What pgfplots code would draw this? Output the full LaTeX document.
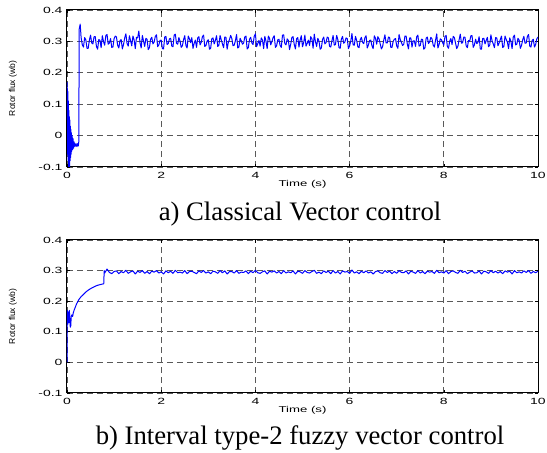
\documentclass[border=0pt]{standalone}
\usepackage{fontspec}
\setmainfont{Liberation Serif}
\newfontfamily\tickfont{Liberation Sans}
\usepackage{pgfplots}
\pgfplotsset{compat=1.18}
\newcommand{\tk}[1]{\scalebox{1.55}[1]{#1}}
\pgfplotsset{
  myax/.style={
    scale only axis, width=471pt, anchor=south west,
    xmin=0, xmax=10, ymin=-0.1, ymax=0.4,
    xtick={0,2,4,6,8,10}, xticklabels={\tk{0},\tk{2},\tk{4},\tk{6},\tk{8},\tk{10}},
    ytick={-0.1,0,0.1,0.2,0.3,0.4}, yticklabels={\tk{-0.1},\tk{0},\tk{0.1},\tk{0.2},\tk{0.3},\tk{0.4}},
    tick label style={font=\fontsize{9}{10}\selectfont\tickfont},
    xticklabel style={yshift=-1.5pt},
    yticklabel style={xshift=-1pt},
    ymajorgrids, xmajorgrids,
    major grid style={black!65, dash pattern=on 6pt off 4pt, line width=0.7pt},
    axis line style={line width=1pt},
    tick style={black, line width=0.6pt},
    major tick length=3pt, tick align=inside,
    xlabel={\tk{Time (s)}},
    xlabel style={font=\fontsize{8.5}{9}\selectfont\tickfont, yshift=5pt},
    every axis y label/.style={at={(axis description cs:-0.115,0.5)}, rotate=90, anchor=center, font=\fontsize{8.5}{9}\selectfont\tickfont},
  }
}
\begin{document}
\begin{tikzpicture}
\useasboundingbox (0,0) rectangle (547pt,453pt);
\begin{axis}[myax, at={(67pt,286pt)}, height=157pt, ylabel={Rotor flux (wb)}]
\addplot[blue, no markers, line width=1pt, line join=round] coordinates {
(0,0.17)(0.005,0.05)(0.01,0.15)(0.015,-0.06)(0.02,0.14)(0.025,-0.08)(0.03,0.11)(0.035,-0.1)(0.04,0.08)(0.045,-0.09)(0.05,0.06)(0.055,-0.1)(0.06,0.05)(0.065,-0.08)(0.07,0.03)(0.075,-0.07)(0.08,0.02)(0.085,-0.06)(0.09,0.01)(0.10,-0.05)(0.11,0.00)(0.12,-0.045)(0.13,-0.01)(0.14,-0.04)(0.15,-0.02)(0.17,-0.035)(0.19,-0.025)(0.21,-0.035)(0.23,-0.025)(0.24,-0.033)(0.25,-0.02)(0.26,0.34)(0.28,0.355)
(0.30,0.312)(0.325,0.289)(0.35,0.282)(0.375,0.312)(0.40,0.305)(0.425,0.278)(0.45,0.278)(0.475,0.304)(0.50,0.320)(0.525,0.295)
(0.55,0.292)(0.575,0.315)(0.60,0.315)(0.625,0.284)(0.65,0.275)(0.675,0.306)(0.70,0.303)(0.725,0.280)(0.75,0.318)(0.775,0.300)
(0.80,0.288)(0.825,0.319)(0.85,0.322)(0.875,0.291)(0.90,0.295)(0.925,0.309)(0.95,0.281)(0.975,0.282)(1.00,0.309)(1.025,0.317)
(1.05,0.314)(1.075,0.288)(1.10,0.279)(1.125,0.302)(1.15,0.306)(1.175,0.276)(1.20,0.290)(1.225,0.311)(1.25,0.324)(1.275,0.293)
(1.30,0.285)(1.325,0.318)(1.35,0.302)(1.375,0.286)(1.40,0.317)(1.425,0.305)(1.45,0.277)(1.475,0.313)(1.50,0.311)(1.525,0.333)
(1.55,0.296)(1.575,0.279)(1.60,0.319)(1.625,0.301)(1.65,0.284)(1.675,0.310)(1.70,0.307)(1.725,0.274)(1.75,0.280)(1.775,0.307)
(1.80,0.313)(1.825,0.292)(1.85,0.298)(1.875,0.316)(1.90,0.321)(1.925,0.283)(1.95,0.289)(1.975,0.303)(2.00,0.304)(2.025,0.277)
(2.05,0.276)(2.075,0.314)(2.10,0.316)(2.125,0.290)(2.15,0.293)(2.175,0.308)(2.20,0.310)(2.225,0.285)(2.25,0.283)(2.275,0.320)
(2.30,0.323)(2.325,0.294)(2.35,0.291)(2.375,0.312)(2.40,0.301)(2.425,0.281)(2.45,0.286)(2.475,0.306)(2.50,0.318)(2.525,0.287)
(2.55,0.279)(2.575,0.317)(2.60,0.308)(2.625,0.296)(2.65,0.312)(2.675,0.278)(2.70,0.294)(2.725,0.304)(2.75,0.281)(2.775,0.311)
(2.80,0.315)(2.825,0.289)(2.85,0.297)(2.875,0.315)(2.90,0.320)(2.925,0.284)(2.95,0.287)(2.975,0.301)(3.00,0.305)(3.025,0.275)
(3.05,0.278)(3.075,0.309)(3.10,0.311)(3.125,0.292)(3.15,0.303)(3.175,0.318)(3.20,0.284)(3.225,0.288)(3.25,0.319)(3.275,0.305)
(3.30,0.292)(3.325,0.280)(3.35,0.314)(3.375,0.313)(3.40,0.275)(3.425,0.297)(3.45,0.306)(3.475,0.319)(3.50,0.309)(3.525,0.286)
(3.55,0.288)(3.575,0.302)(3.60,0.322)(3.625,0.279)(3.65,0.282)(3.675,0.310)(3.70,0.302)(3.725,0.291)(3.75,0.295)(3.775,0.314)
(3.80,0.317)(3.825,0.276)(3.85,0.280)(3.875,0.307)(3.90,0.313)(3.925,0.295)(3.95,0.290)(3.975,0.316)(4.00,0.324)(4.025,0.283)
(4.05,0.293)(4.075,0.303)(4.10,0.285)(4.125,0.311)(4.15,0.304)(4.175,0.277)(4.20,0.316)(4.225,0.300)(4.25,0.277)(4.275,0.317)
(4.30,0.310)(4.325,0.289)(4.35,0.299)(4.375,0.312)(4.40,0.318)(4.425,0.281)(4.45,0.286)(4.475,0.305)(4.50,0.307)(4.525,0.287)
(4.55,0.281)(4.575,0.320)(4.60,0.321)(4.625,0.293)(4.65,0.289)(4.675,0.308)(4.70,0.303)(4.725,0.274)(4.75,0.291)(4.775,0.313)
(4.80,0.315)(4.825,0.290)(4.85,0.276)(4.875,0.309)(4.90,0.312)(4.925,0.282)(4.95,0.305)(4.975,0.318)(5.00,0.283)(5.025,0.296)
(5.05,0.320)(5.075,0.285)(5.10,0.294)(5.125,0.304)(5.15,0.287)(5.175,0.315)(5.20,0.308)(5.225,0.278)(5.25,0.323)(5.275,0.299)
(5.30,0.284)(5.325,0.310)(5.35,0.301)(5.375,0.275)(5.40,0.279)(5.425,0.306)(5.45,0.314)(5.475,0.292)(5.50,0.296)(5.525,0.314)
(5.55,0.311)(5.575,0.284)(5.60,0.282)(5.625,0.302)(5.65,0.319)(5.675,0.288)(5.70,0.290)(5.725,0.319)(5.75,0.306)(5.775,0.280)
(5.80,0.278)(5.825,0.307)(5.85,0.316)(5.875,0.294)(5.90,0.298)(5.925,0.311)(5.95,0.309)(5.975,0.277)(6.00,0.285)(6.025,0.301)
(6.05,0.325)(6.075,0.289)(6.10,0.288)(6.125,0.316)(6.15,0.303)(6.175,0.283)(6.20,0.280)(6.225,0.305)(6.25,0.313)(6.275,0.297)
(6.30,0.293)(6.325,0.312)(6.35,0.318)(6.375,0.279)(6.40,0.289)(6.425,0.303)(6.45,0.304)(6.475,0.286)(6.50,0.277)(6.525,0.318)
(6.55,0.310)(6.575,0.291)(6.60,0.315)(6.625,0.308)(6.65,0.292)(6.675,0.276)(6.70,0.283)(6.725,0.304)(6.75,0.321)(6.775,0.295)
(6.80,0.295)(6.825,0.314)(6.85,0.312)(6.875,0.281)(6.90,0.281)(6.925,0.300)(6.95,0.307)(6.975,0.309)(7.00,0.286)(7.025,0.278)
(7.05,0.322)(7.075,0.306)(7.10,0.297)(7.125,0.287)(7.15,0.291)(7.175,0.317)(7.20,0.317)(7.225,0.292)(7.25,0.276)(7.275,0.311)
(7.30,0.311)(7.325,0.282)(7.35,0.302)(7.375,0.302)(7.40,0.284)(7.425,0.315)(7.45,0.320)(7.475,0.285)(7.50,0.287)(7.525,0.307)
(7.55,0.306)(7.575,0.275)(7.60,0.279)(7.625,0.310)(7.65,0.314)(7.675,0.293)(7.70,0.299)(7.725,0.313)(7.75,0.308)(7.775,0.288)
(7.80,0.282)(7.825,0.304)(7.85,0.324)(7.875,0.279)(7.90,0.290)(7.925,0.308)(7.95,0.305)(7.975,0.296)(8.00,0.288)(8.025,0.316)
(8.05,0.319)(8.075,0.284)(8.10,0.278)(8.125,0.301)(8.15,0.309)(8.175,0.290)(8.20,0.316)(8.225,0.312)(8.25,0.294)(8.275,0.277)
(8.30,0.285)(8.325,0.305)(8.35,0.323)(8.375,0.294)(8.40,0.296)(8.425,0.314)(8.45,0.313)(8.475,0.286)(8.50,0.280)(8.525,0.303)
(8.55,0.301)(8.575,0.318)(8.60,0.318)(8.625,0.281)(8.65,0.289)(8.675,0.307)(8.70,0.293)(8.725,0.297)(8.75,0.315)(8.775,0.276)
(8.80,0.275)(8.825,0.309)(8.85,0.310)(8.875,0.292)(8.90,0.303)(8.925,0.313)(8.95,0.283)(8.975,0.288)(9.00,0.321)(9.025,0.302)
(9.05,0.292)(9.075,0.280)(9.10,0.312)(9.125,0.311)(9.15,0.286)(9.175,0.295)(9.20,0.306)(9.225,0.317)(9.25,0.281)(9.275,0.283)
(9.30,0.317)(9.325,0.306)(9.35,0.298)(9.375,0.277)(9.40,0.311)(9.425,0.300)(9.45,0.277)(9.475,0.314)(9.50,0.320)(9.525,0.289)
(9.55,0.291)(9.575,0.310)(9.60,0.304)(9.625,0.278)(9.65,0.287)(9.675,0.305)(9.70,0.316)(9.725,0.294)(9.75,0.295)(9.775,0.316)
(9.80,0.322)(9.825,0.285)(9.85,0.282)(9.875,0.303)(9.90,0.307)(9.925,0.282)(9.95,0.290)(9.975,0.308)(10.00,0.314)
};
\end{axis}
\node[font=\fontsize{26.7}{30}\selectfont, anchor=base] at (300pt,232pt) {a) Classical Vector control};
\begin{axis}[myax, at={(67pt,60pt)}, height=153pt, ylabel={Rotor flux (wb)}]
\addplot[blue, no markers, line width=1pt, line join=round] coordinates {
(0,0.0)(0.005,0.17)(0.02,0.125)(0.03,0.165)(0.04,0.13)(0.05,0.17)(0.06,0.14)(0.07,0.115)(0.08,0.12)(0.09,0.15)(0.10,0.155)(0.12,0.15)(0.13,0.16)(0.15,0.17)(0.20,0.19)(0.25,0.205)(0.30,0.215)(0.35,0.222)(0.40,0.230)(0.45,0.236)(0.50,0.241)(0.55,0.245)(0.60,0.249)(0.65,0.252)(0.70,0.254)(0.75,0.256)(0.78,0.257)(0.79,0.300)
(0.80,0.292)(0.85,0.305)(0.90,0.294)(0.95,0.290)(1.00,0.297)(1.05,0.299)(1.10,0.290)(1.15,0.297)(1.20,0.293)(1.25,0.301)
(1.30,0.291)(1.35,0.296)(1.40,0.299)(1.45,0.289)(1.50,0.298)(1.55,0.294)(1.60,0.300)(1.65,0.291)(1.70,0.297)(1.75,0.290)
(1.80,0.298)(1.85,0.295)(1.90,0.300)(1.95,0.292)(2.00,0.296)(2.05,0.289)(2.10,0.299)(2.15,0.293)(2.20,0.298)(2.25,0.291)
(2.30,0.301)(2.35,0.293)(2.40,0.295)(2.45,0.292)(2.50,0.300)(2.55,0.290)(2.60,0.297)(2.65,0.298)(2.70,0.294)(2.75,0.290)
(2.80,0.299)(2.85,0.294)(2.90,0.300)(2.95,0.292)(3.00,0.296)(3.05,0.290)(3.10,0.298)(3.15,0.296)(3.20,0.291)(3.25,0.300)
(3.30,0.293)(3.35,0.299)(3.40,0.289)(3.45,0.297)(3.50,0.297)(3.55,0.292)(3.60,0.300)(3.65,0.291)(3.70,0.295)(3.75,0.294)
(3.80,0.299)(3.85,0.290)(3.90,0.298)(3.95,0.293)(4.00,0.301)(4.05,0.293)(4.10,0.291)(4.15,0.296)(4.20,0.299)(4.25,0.289)
(4.30,0.298)(4.35,0.295)(4.40,0.299)(4.45,0.292)(4.50,0.297)(4.55,0.290)(4.60,0.300)(4.65,0.292)(4.70,0.296)(4.75,0.293)
(4.80,0.299)(4.85,0.289)(4.90,0.298)(4.95,0.296)(5.00,0.291)(5.05,0.300)(5.10,0.294)(5.15,0.292)(5.20,0.297)(5.25,0.301)
(5.30,0.291)(5.35,0.295)(5.40,0.290)(5.45,0.299)(5.50,0.294)(5.55,0.298)(5.60,0.290)(5.65,0.300)(5.70,0.292)(5.75,0.297)
(5.80,0.289)(5.85,0.299)(5.90,0.295)(5.95,0.297)(6.00,0.291)(6.05,0.302)(6.10,0.292)(6.15,0.296)(6.20,0.290)(6.25,0.298)
(6.30,0.293)(6.35,0.299)(6.40,0.292)(6.45,0.296)(6.50,0.289)(6.55,0.297)(6.60,0.299)(6.65,0.293)(6.70,0.291)(6.75,0.300)
(6.80,0.294)(6.85,0.298)(6.90,0.290)(6.95,0.297)(7.00,0.291)(7.05,0.300)(7.10,0.294)(7.15,0.293)(7.20,0.299)(7.25,0.289)
(7.30,0.298)(7.35,0.295)(7.40,0.291)(7.45,0.300)(7.50,0.292)(7.55,0.297)(7.60,0.290)(7.65,0.298)(7.70,0.295)(7.75,0.297)
(7.80,0.291)(7.85,0.301)(7.90,0.293)(7.95,0.296)(8.00,0.292)(8.05,0.300)(8.10,0.290)(8.15,0.297)(8.20,0.299)(8.25,0.294)
(8.30,0.291)(8.35,0.301)(8.40,0.294)(8.45,0.298)(8.50,0.290)(8.55,0.295)(8.60,0.299)(8.65,0.292)(8.70,0.293)(8.75,0.299)
(8.80,0.289)(8.85,0.298)(8.90,0.296)(8.95,0.291)(9.00,0.300)(9.05,0.293)(9.10,0.298)(9.15,0.292)(9.20,0.297)(9.25,0.290)
(9.30,0.299)(9.35,0.295)(9.40,0.298)(9.45,0.289)(9.50,0.300)(9.55,0.293)(9.60,0.296)(9.65,0.292)(9.70,0.299)(9.75,0.294)
(9.80,0.300)(9.85,0.291)(9.90,0.297)(9.95,0.293)(10.00,0.298)
};
\end{axis}
\node[font=\fontsize{26.7}{30}\selectfont, anchor=base] at (300pt,8pt) {b) Interval type-2 fuzzy vector control};
\end{tikzpicture}
\end{document}
